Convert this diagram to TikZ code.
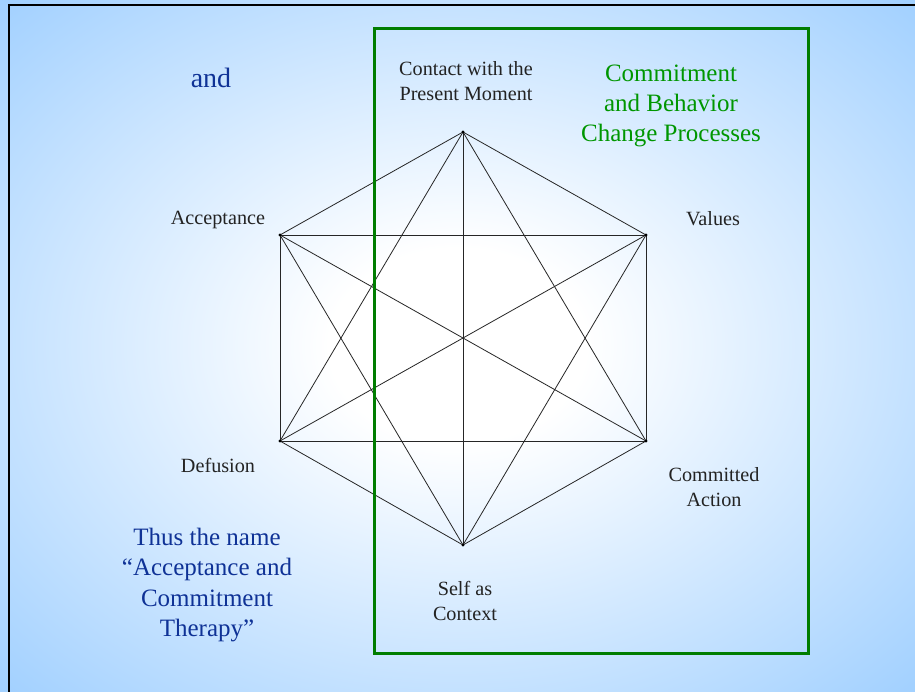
\documentclass[tikz,border=0pt]{standalone}
\usepackage{fontspec}
\setmainfont{Liberation Serif}
\definecolor{bgblue}{RGB}{153,204,255}
\definecolor{txtblue}{RGB}{15,50,150}
\definecolor{txtgreen}{RGB}{0,150,0}
\definecolor{framegreen}{RGB}{0,125,0}
\definecolor{lblgray}{RGB}{35,35,35}
\pgfdeclareradialshading{slidebg}{\pgfpoint{0bp}{0bp}}{color(0bp)=(white); color(7bp)=(white); color(38bp)=(bgblue); color(80bp)=(bgblue)}
\tikzset{
  lbl/.style={text=lblgray, align=center, inner sep=0pt, font=\fontsize{20.2}{25}\selectfont},
  bluetxt/.style={text=txtblue, align=center, inner sep=0pt, font=\fontsize{25}{30.5}\selectfont},
  greentxt/.style={text=txtgreen, align=center, inner sep=0pt, font=\fontsize{25}{30}\selectfont},
  edge/.style={draw=black!85, line width=0.8pt},
  vdot/.style={fill=black},
  grpframe/.style={draw=framegreen, line width=3pt},
  slideframe/.style={draw=black, line width=2.6pt}
}
\begin{document}
\begin{tikzpicture}[x=1pt,y=-1pt]
\useasboundingbox (0,0) rectangle (915,691);
\shade[shading=slidebg] (0,0) rectangle (915,691);
\draw[slideframe] (9,692) -- (9,5) -- (916,5);
% vertices
\coordinate (T) at (463,132);
\coordinate (UL) at (280,235);
\coordinate (UR) at (646,235);
\coordinate (LL) at (280,441);
\coordinate (LR) at (646,441);
\coordinate (B) at (463,545);
% complete graph on the six vertices
\foreach \a/\b in {T/UL,T/UR,UR/LR,LR/B,B/LL,LL/UL,UL/UR,LL/LR,UL/LR,UR/LL,T/LL,T/LR,B/UL,B/UR,T/B}
  \draw[edge] (\a) -- (\b);
\foreach \v in {T,UL,UR,LL,LR,B}
  \fill[vdot] (\v) circle (1.6pt);
% group frame
\draw[grpframe] (374,28) rectangle (808,653);
% labels
\node[lbl] (cpm) at (466,81) {Contact with the\\Present Moment};
\node[lbl] (acc) at (218,220) {Acceptance};
\node[lbl] (val) at (713,219) {Values};
\node[lbl] (def) at (218,465) {Defusion};
\node[lbl] (cac) at (714,487) {Committed\\Action};
\node[lbl] (sac) at (465,601) {Self as\\Context};
\node[greentxt] (cbc) at (671,106) {Commitment\\and Behavior\\Change Processes};
\node[bluetxt, font=\fontsize{28}{32}\selectfont] (and) at (211,78) {and};
\node[bluetxt] (thus) at (207,585) {Thus the name\\“Acceptance and\\Commitment\\Therapy”};
\end{tikzpicture}
\end{document}
